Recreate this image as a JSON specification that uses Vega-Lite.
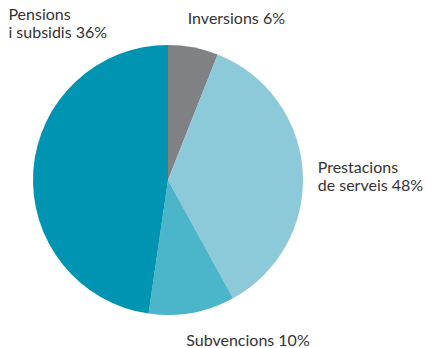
{
  "$schema": "https://vega.github.io/schema/vega-lite/v6.json",
  "autosize": "none",
  "width": 270,
  "height": 272,
  "padding": {"left": 33, "top": 44, "right": 124, "bottom": 32},
  "background": "white",
  "config": {"view": {"stroke": null}},
  "data": {
    "values": [
      {"category": "Inversions", "label": "Inversions 6%", "value": 6, "order": 1},
      {"category": "Prestacions de serveis", "label": "Prestacions\nde serveis 48%", "value": 36, "order": 2},
      {"category": "Subvencions", "label": "Subvencions 10%", "value": 10.3, "order": 3},
      {"category": "Pensions i subsidis", "label": "Pensions\ni subsidis 36%", "value": 47.7, "order": 4}
    ]
  },
  "encoding": {
    "theta": {"field": "value", "type": "quantitative", "stack": true},
    "order": {"field": "order", "type": "quantitative"}
  },
  "layer": [
    {
      "mark": {"type": "arc", "outerRadius": 135},
      "encoding": {
        "color": {
          "field": "category",
          "type": "nominal",
          "legend": null,
          "scale": {
            "domain": ["Inversions", "Prestacions de serveis", "Subvencions", "Pensions i subsidis"],
            "range": ["#808184", "#8dcad9", "#4bb5c9", "#0094b3"]
          }
        }
      }
    },
    {
      "mark": {"type": "text", "radius": 164, "align": "left", "baseline": "middle", "dx": -11, "font": "Lato", "fontSize": 16, "color": "#333333", "lineBreak": "\n", "lineHeight": 18},
      "encoding": {
        "text": {"condition": {"test": "datum.category == 'Inversions' || datum.category == 'Subvencions'", "field": "label"}, "value": ""}
      }
    },
    {
      "mark": {"type": "text", "radius": 150, "align": "left", "baseline": "middle", "dy": -3, "font": "Lato", "fontSize": 16, "color": "#333333", "lineBreak": "\n", "lineHeight": 18},
      "encoding": {
        "text": {"condition": {"test": "datum.category == 'Prestacions de serveis'", "field": "label"}, "value": ""}
      }
    },
    {
      "mark": {"type": "text", "radius": 150, "align": "left", "baseline": "top", "dx": -10, "dy": -162, "font": "Lato", "fontSize": 16, "color": "#333333", "lineBreak": "\n", "lineHeight": 18},
      "encoding": {
        "text": {"condition": {"test": "datum.category == 'Pensions i subsidis'", "field": "label"}, "value": ""}
      }
    }
  ]
}
